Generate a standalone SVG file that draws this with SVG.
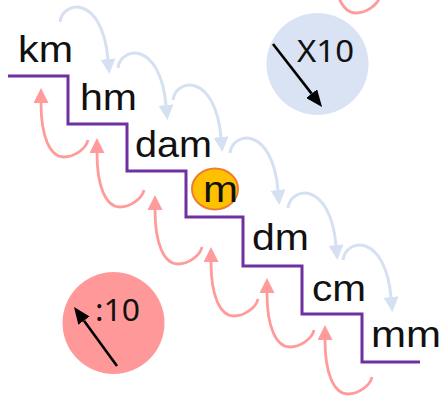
<svg xmlns="http://www.w3.org/2000/svg" width="439" height="396" viewBox="0 0 439 396">
<defs>
<style>
.lbl{font-family:"Liberation Sans","DejaVu Sans",sans-serif;font-size:36px;fill:#111}
.ct{font-family:"Noto Sans","Liberation Sans",sans-serif;font-size:30px;fill:#111}
.blue{fill:none;stroke:#D5E0F2;stroke-width:3;marker-end:url(#hb)}
.pink{fill:none;stroke:#FF9B9B;stroke-width:2.8;marker-end:url(#hp)}
.blk{fill:none;stroke:#000;stroke-width:2.6;marker-end:url(#hk)}
</style>
<marker id="hb" viewBox="0 0 15 15" markerUnits="userSpaceOnUse" markerWidth="15" markerHeight="15" refX="0" refY="7.5" orient="auto"><path d="M0,0 L15,7.5 L0,15 z" fill="#D5E0F2"/></marker>
<marker id="hp" viewBox="0 0 15 15" markerUnits="userSpaceOnUse" markerWidth="15" markerHeight="15" refX="0" refY="7.5" orient="auto"><path d="M0,0 L15,7.5 L0,15 z" fill="#FF9B9B"/></marker>
<marker id="hk" viewBox="0 0 17 14" markerUnits="userSpaceOnUse" markerWidth="17" markerHeight="14" refX="0" refY="7" orient="auto"><path d="M0,0 L17,7 L0,14 z" fill="#000"/></marker>
</defs>
<rect width="439" height="396" fill="#fff"/>
<g id="stairs">
<polyline points="8,76 68,76 68,124 127,124 127,171 186,171 186,217 243,217 243,266 302,266 302,314 362,314 362,362 420,362" fill="none" stroke="#7030A0" stroke-width="3"/>
</g>
<g id="connectors">
<path class="blue" transform="translate(60,22)" d="M0,0 c3,-22 42,-27 48,37"/>
<path class="blue" transform="translate(118,68)" d="M0,0 c3,-22 42,-27 48,37"/>
<path class="blue" transform="translate(173,100)" d="M0,0 c3,-22 42,-27 48,37"/>
<path class="blue" transform="translate(230,153)" d="M0,0 c3,-22 42,-27 48,37"/>
<path class="blue" transform="translate(288,208)" d="M0,0 c3,-22 42,-27 48,37"/>
<path class="blue" transform="translate(343,260)" d="M0,0 c3,-22 42,-27 48,37"/>
<path class="pink" transform="translate(88,140)" d="M0,0 c-2,9 -14,17 -24,17 c-14,0 -23,-20 -23,-54"/>
<path class="pink" transform="translate(144,190)" d="M0,0 c-2,9 -14,17 -24,17 c-14,0 -23,-20 -23,-54"/>
<path class="pink" transform="translate(202,247)" d="M0,0 c-2,9 -14,17 -24,17 c-14,0 -23,-20 -23,-54"/>
<path class="pink" transform="translate(258,299)" d="M0,0 c-2,9 -14,17 -24,17 c-14,0 -23,-20 -23,-54"/>
<path class="pink" transform="translate(314,330)" d="M0,0 c-2,9 -14,17 -24,17 c-14,0 -23,-20 -23,-54"/>
<path class="pink" transform="translate(372,377)" d="M0,0 c-2,9 -14,17 -24,17 c-14,0 -23,-20 -23,-54"/>
<path class="pink" transform="translate(380,-4)" d="M0,0 c-2,9 -14,17 -24,17 c-14,0 -23,-20 -23,-54"/>
</g>
<g id="km"><text class="lbl" x="18" y="62" textLength="55" lengthAdjust="spacingAndGlyphs">km</text></g>
<g id="hm"><text class="lbl" x="80" y="110" textLength="57" lengthAdjust="spacingAndGlyphs">hm</text></g>
<g id="dam"><text class="lbl" x="135" y="157" textLength="77" lengthAdjust="spacingAndGlyphs">dam</text></g>
<g id="m">
<ellipse cx="215" cy="189" rx="23" ry="20.5" fill="#FFC000" stroke="#ED7D31" stroke-width="2"/>
<text class="lbl" x="203" y="202" font-size="38" textLength="35" lengthAdjust="spacingAndGlyphs">m</text>
</g>
<g id="dm"><text class="lbl" x="252" y="250" textLength="57" lengthAdjust="spacingAndGlyphs">dm</text></g>
<g id="cm"><text class="lbl" x="312" y="301" textLength="54" lengthAdjust="spacingAndGlyphs">cm</text></g>
<g id="mm"><text class="lbl" x="371" y="347" textLength="70" lengthAdjust="spacingAndGlyphs">mm</text></g>
<g id="times10">
<circle cx="317.5" cy="64" r="51" fill="#DAE3F3"/>
<text class="ct" x="297" y="62" textLength="57" lengthAdjust="spacingAndGlyphs">X10</text>
<path class="blk" d="M273,44 L311.6,93.6"/>
</g>
<g id="div10">
<circle cx="113.5" cy="323" r="51" fill="#FF9999"/>
<text class="ct" x="95" y="321" textLength="45" lengthAdjust="spacingAndGlyphs">:10</text>
<path class="blk" d="M117,366 L84,320.7"/>
</g>
</svg>
